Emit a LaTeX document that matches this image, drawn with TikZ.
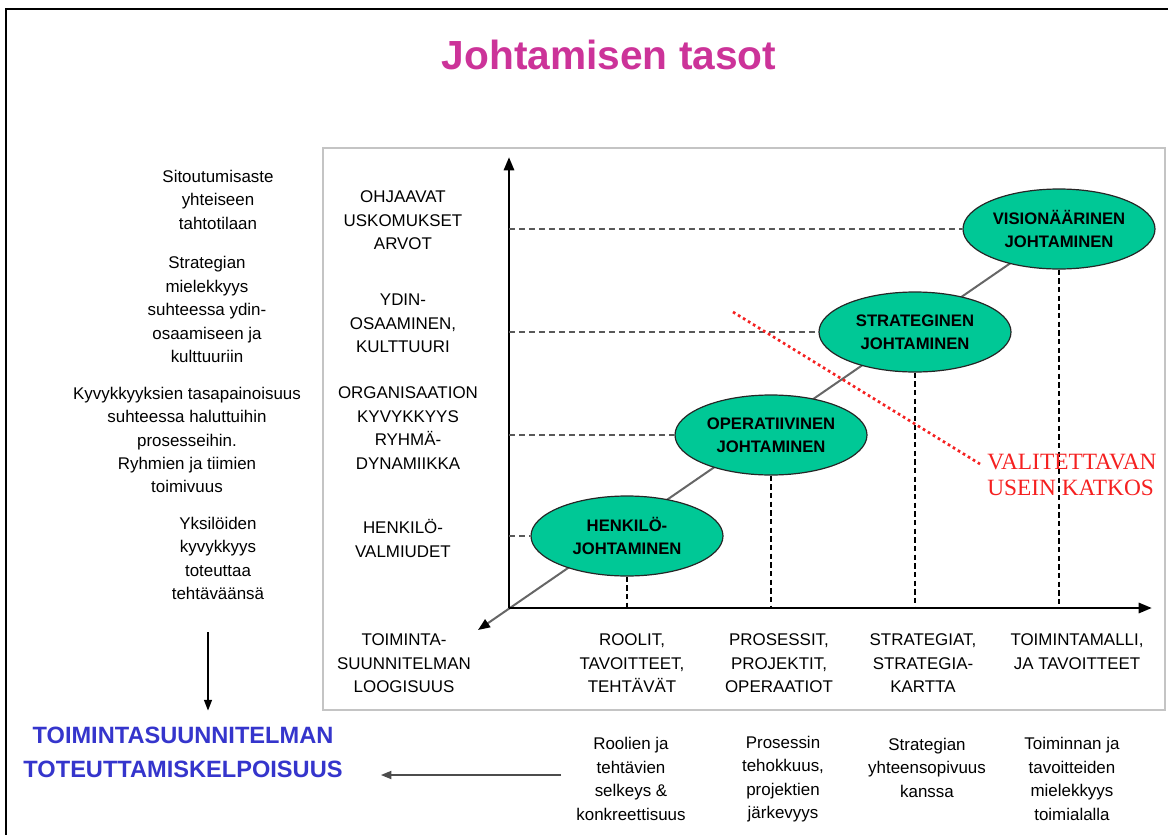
\documentclass[tikz,border=0pt]{standalone}
\usepackage{fontspec}
\setmainfont{Liberation Sans}
\newfontfamily\timesfont{Liberation Serif}
\usetikzlibrary{arrows.meta,shapes.geometric}
\definecolor{pinkc}{HTML}{CC3399}
\definecolor{ovalc}{HTML}{00C896}
\definecolor{bluec}{HTML}{3535CC}
\definecolor{redc}{HTML}{F52020}
\definecolor{framec}{HTML}{C4C4C4}

\begin{document}
\begin{tikzpicture}[x=.75pt,y=-.75pt,
 txt/.style={align=center,inner sep=0pt,font=\fontsize{12.7}{17.6}\selectfont},
 oval/.style={ellipse,draw=black!85,line width=.9pt,fill=ovalc,minimum width=144pt,minimum height=60pt,inner sep=0pt,align=center,font=\bfseries\fontsize{12.5}{17.6}\selectfont},
 axis/.style={line width=2.2pt,-{Triangle[length=10pt,width=7.5pt]}},
 hdash/.style={black!65,line width=1.1pt,dash pattern=on 4.5pt off 3pt},
 vdash/.style={black,line width=.9pt,dash pattern=on 4pt off 2.5pt},
 arr/.style={line width=.9pt,-{Triangle[length=8pt,width=6pt]}}]
\useasboundingbox (0,0) rectangle (1168,835);
\draw[line width=1.6pt] (6,835) -- (6,9) -- (1168,9);
\node[font=\bfseries\fontsize{30.5}{36}\selectfont,text=pinkc] (title) at (609,55) {Johtamisen tasot};
\draw[framec,line width=1.2pt] (323,148) rectangle (1165,710);
\coordinate (o) at (509,608);
\coordinate (ytop) at (509,157);
\coordinate (xend) at (1152,608);
\coordinate (dtop) at (1060,229);
\coordinate (dtip) at (478,630);
\draw[black!60,line width=1.5pt,-{Triangle[length=9pt,width=7pt,color=black]}] (dtop) -- (dtip);
\draw[axis] (o) -- (ytop);
\draw[axis] (o) -- (xend);
\foreach \n/\x/\y/\t in {hen/627/536/{HENKILÖ-\\JOHTAMINEN},ope/771/435/{OPERATIIVINEN\\JOHTAMINEN},str/915/332/{STRATEGINEN\\JOHTAMINEN},vis/1059/229/{VISIONÄÄRINEN\\JOHTAMINEN}}{
 \node[oval] (\n) at (\x,\y) {\t};
 \draw[hdash] (\n.west -| o) -- (\n.west);
 \draw[vdash] (\n.south) -- (\n.south |- o);
}
\node[txt] (s1) at (218,199.5) {Sitoutumisaste\\yhteiseen\\tahtotilaan};
\node[txt] (s2) at (207,309.5) {Strategian\\mielekkyys\\suhteessa ydin-\\osaamiseen ja\\kulttuuriin};
\node[txt] (s3) at (187,440) {Kyvykkyyksien tasapainoisuus\\suhteessa haluttuihin\\prosesseihin.\\Ryhmien ja tiimien\\toimivuus};
\node[txt] (s4) at (218,558.5) {Yksilöiden\\kyvykkyys\\toteuttaa\\tehtäväänsä};
\node[txt] (m1) at (403,220.5) {OHJAAVAT\\USKOMUKSET\\ARVOT};
\node[txt] (m2) at (403,323.5) {YDIN-\\OSAAMINEN,\\KULTTUURI};
\node[txt] (m3) at (408,428) {ORGANISAATION\\KYVYKKYYS\\RYHMÄ-\\DYNAMIIKKA};
\node[txt] (m4) at (403,538.5) {HENKILÖ-\\VALMIUDET};
\node[txt] (b0) at (404,663.5) {TOIMINTA-\\SUUNNITELMAN\\LOOGISUUS};
\node[txt] (b1) at (632,663.5) {ROOLIT,\\TAVOITTEET,\\TEHTÄVÄT};
\node[txt] (b2) at (779,663.5) {PROSESSIT,\\PROJEKTIT,\\OPERAATIOT};
\node[txt] (b3) at (923,663.5) {STRATEGIAT,\\STRATEGIA-\\KARTTA};
\node[txt] (b4) at (1077,651.5) {TOIMINTAMALLI,\\JA TAVOITTEET};
\node[txt] (c1) at (631,779) {Roolien ja\\tehtävien\\selkeys \&\\konkreettisuus};
\node[txt] (c2) at (783,779) {Prosessin\\tehokkuus,\\projektien\\järkevyys};
\node[txt] (c3) at (927,767.5) {Strategian\\yhteensopivuus\\kanssa};
\node[txt] (c4) at (1072,779) {Toiminnan ja\\tavoitteiden\\mielekkyys\\toimialalla};
\node[align=center,inner sep=0pt,text=bluec,font=\bfseries\fontsize{17.7}{26}\selectfont] (res) at (183,752.5) {TOIMINTASUUNNITELMAN\\TOTEUTTAMISKELPOISUUS};
\node[anchor=west,align=left,inner sep=0pt,text=redc,font=\timesfont\fontsize{17.5}{19.5}\selectfont] (katkos) at (987,475) {VALITETTAVAN\\USEIN KATKOS};
\coordinate (rd1) at (733,312);
\draw[redc,line width=2pt,dash pattern=on 2pt off 2.4pt] (rd1) -- ([shift={(-7,-11)}]katkos.west);
\coordinate (a1) at (208,632);
\draw[arr,shorten >=12pt] (a1) -- (a1 |- res.north);
\coordinate (l1) at (561,775);
\draw[arr,black!70,line width=1.5pt,shorten >=28.5pt] (l1) -- (l1 -| res.east);
\end{tikzpicture}
\end{document}
